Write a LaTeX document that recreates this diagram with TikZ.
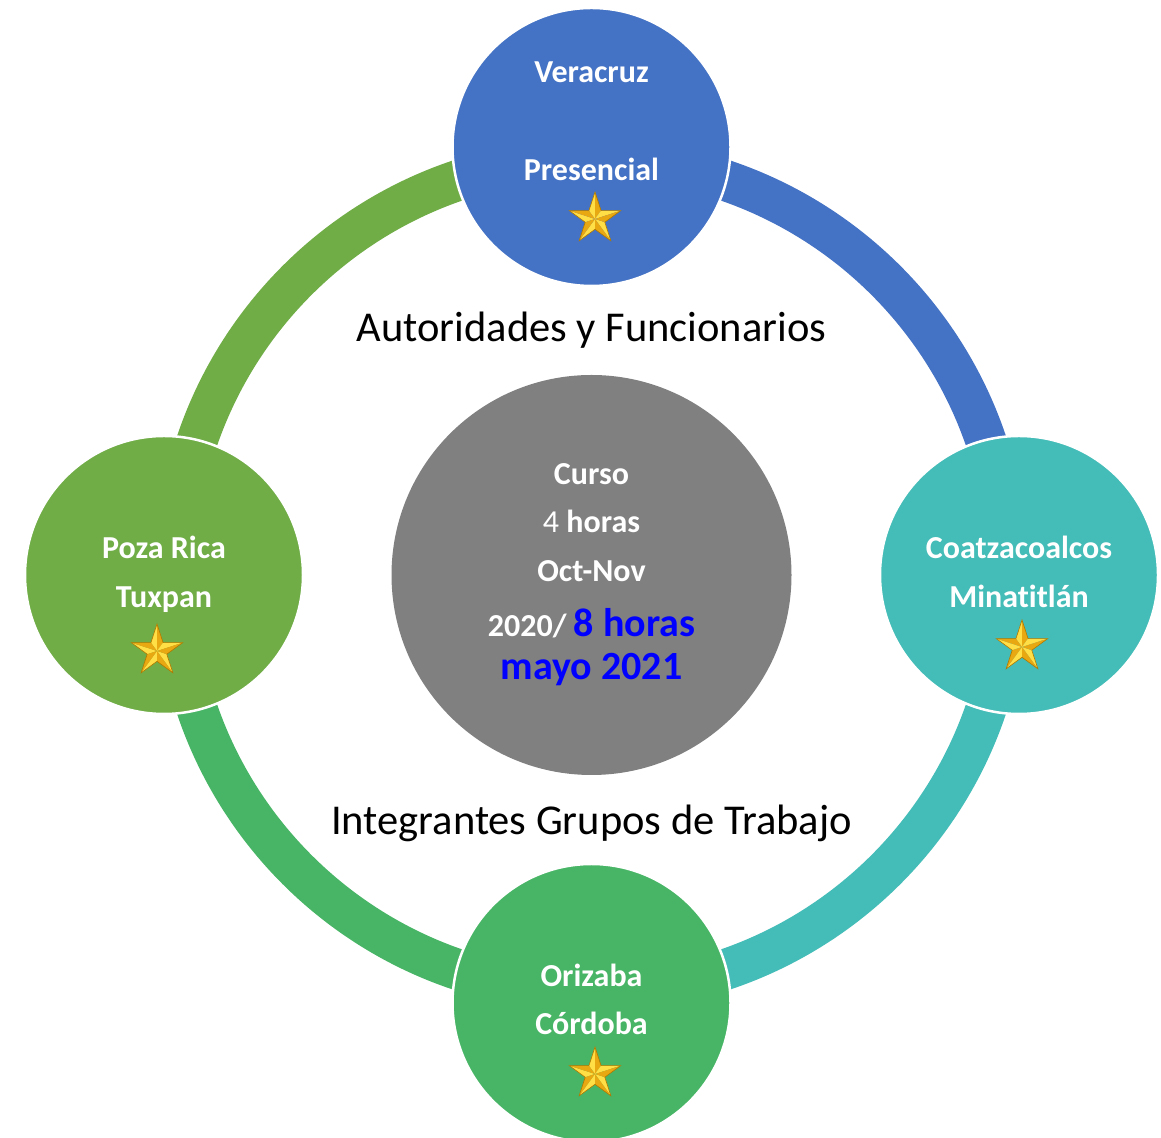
\documentclass[tikz,border=0pt]{standalone}
\usepackage{fontspec}
\setmainfont{Carlito}[Ligatures=NoCommon]
\usetikzlibrary{shapes}

\definecolor{cityblue}{RGB}{68,114,196}
\definecolor{cityolive}{RGB}{112,173,71}
\definecolor{cityteal}{RGB}{68,188,183}
\definecolor{citygreen}{RGB}{72,181,102}
\definecolor{hubgray}{RGB}{128,128,128}
\definecolor{starA}{RGB}{255,222,70}
\definecolor{starB}{RGB}{232,168,18}
\definecolor{starC}{RGB}{176,120,0}

\begin{document}
\begin{tikzpicture}[
    x=1pt, y=1pt,
    city/.style={circle, draw=white, line width=2.5pt, minimum size=278pt, inner sep=0pt},
    hub/.style={circle, fill=hubgray, minimum size=400pt, inner sep=0pt},
    ring/.style={line width=41pt},
    citytext/.style={text=white, font=\fontsize{32}{38}\selectfont\bfseries, anchor=base, inner sep=0pt},
    bluetext/.style={text=blue, font=\fontsize{40}{48}\selectfont\bfseries, anchor=base, inner sep=0pt},
    captext/.style={text=black, font=\fontsize{42.5}{50}\selectfont, anchor=base, inner sep=0pt},
    starlight/.style={fill=starA},
    stardark/.style={fill=starB},
    staredge/.style={star, star points=5, star point ratio=2.618, minimum size=54pt, inner sep=0pt, draw=starC, line width=0.6pt}
]

\useasboundingbox (0,0) rectangle (1161,1137);

% Ring of four arcs
\coordinate (ringC) at (591.5,562);
\foreach \a/\col in {180/cityolive, 90/cityblue, 0/cityteal, -90/citygreen} {
    \draw[ring, \col] ([shift={(ringC)}]\a:416.5) arc[start angle=\a, end angle=\a-90, radius=416.5];
}

% Circles
\node[hub] (curso) at (ringC) {};
\node[city, fill=cityblue] (veracruz) at (591.5,990) {};
\node[city, fill=cityolive] (pozarica) at (164,562) {};
\node[city, fill=cityteal] (coatza) at (1019,562) {};
\node[city, fill=citygreen] (orizaba) at (591.5,134) {};

% Circle texts
\node[citytext] (veracruzA) at ([yshift=64]veracruz.center) {Veracruz};
\node[citytext] (veracruzB) at ([yshift=-34]veracruz.center) {Presencial};
\node[citytext] (pozaricaA) at ([yshift=16]pozarica.center) {Poza Rica};
\node[citytext] (pozaricaB) at ([yshift=-33]pozarica.center) {Tuxpan};
\node[citytext] (coatzaA) at ([yshift=16]coatza.center) {Coatzacoalcos};
\node[citytext] (coatzaB) at ([yshift=-33]coatza.center) {Minatitlán};
\node[citytext] (orizabaA) at ([yshift=16]orizaba.center) {Orizaba};
\node[citytext] (orizabaB) at ([yshift=-32]orizaba.center) {Córdoba};

% Centre texts
\node[citytext] (cursoA) at ([yshift=90]curso.center) {Curso};
\node[citytext] (cursoB) at ([yshift=42]curso.center) {{\mdseries 4} horas};
\node[citytext] (cursoC) at ([yshift=-7]curso.center) {Oct-Nov};
\node[citytext] (cursoD) at ([yshift=-62]curso.center) {2020/ {\color{blue}\fontsize{40}{48}\selectfont 8 horas}};
\node[bluetext] (cursoE) at ([yshift=-105]curso.center) {mayo 2021};

% Captions
\node[captext] (autoridades) at (591.5,795) {Autoridades y Funcionarios};
\node[captext] (integrantes) at (591.5,302) {Integrantes Grupos de Trabajo};

% Gold stars
\foreach \sx/\sy [count=\i] in {595/918, 157/486, 1022/490, 595/63} {
    \foreach \k in {0,...,4} {
        \pgfmathsetmacro\ang{90+72*\k}
        \fill[starlight] (\sx,\sy) -- ([shift={(\sx,\sy)}]\ang:27) -- ([shift={(\sx,\sy)}]{\ang+36}:10.31) -- cycle;
        \fill[stardark] (\sx,\sy) -- ([shift={(\sx,\sy)}]\ang:27) -- ([shift={(\sx,\sy)}]{\ang-36}:10.31) -- cycle;
    }
    \node[staredge] (star\i) at (\sx,\sy) {};
}

\end{tikzpicture}
\end{document}
